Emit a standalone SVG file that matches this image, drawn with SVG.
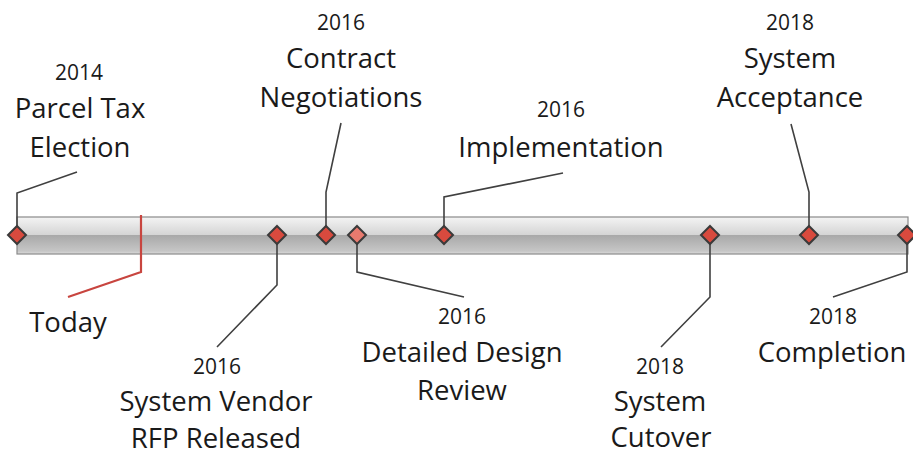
<svg xmlns="http://www.w3.org/2000/svg" width="913" height="455" viewBox="0 0 913 455">
  <defs>
    <linearGradient id="barTop" x1="0" y1="0" x2="0" y2="1">
      <stop offset="0" stop-color="#f4f4f4"/>
      <stop offset="1" stop-color="#d4d4d4"/>
    </linearGradient>
    <linearGradient id="barBottom" x1="0" y1="0" x2="0" y2="1">
      <stop offset="0" stop-color="#a8a8a8"/>
      <stop offset="0.85" stop-color="#c6c6c6"/>
      <stop offset="1" stop-color="#dcdcdc"/>
    </linearGradient>
    <path id="diamond" d="M0,-9 L9,0 L0,9 L-9,0 Z"/>
  </defs>
  <style>
    .leader { fill: none; stroke: #404040; stroke-width: 1.6; }
    .today { fill: none; stroke: #c8453f; stroke-width: 2.2; }
    .ms { fill: #d84a3e; stroke: #3a3a3a; stroke-width: 2; }
    .ms-light { fill: #e87a6e; stroke: #3a3a3a; stroke-width: 2; }
    .year { font-family: "Open Sans", "Noto Sans", sans-serif; font-size: 21px; fill: #1a1a1a; text-anchor: middle; }
    .label { font-family: "Open Sans", "Noto Sans", sans-serif; font-size: 27.5px; fill: #1a1a1a; text-anchor: middle; }
  </style>

  <rect width="913" height="455" fill="#ffffff"/>

  <!-- timeline bar -->
  <g id="timeline-bar">
    <rect x="17" y="217" width="891" height="18" fill="url(#barTop)"/>
    <rect x="17" y="235" width="891" height="19" fill="url(#barBottom)"/>
    <rect x="17" y="217" width="891" height="37" fill="none" stroke="#8a8a8a" stroke-width="1.2"/>
  </g>

  <!-- connectors -->
  <g id="connectors">
    <polyline class="leader" points="17,235 17,193 77,172"/>
    <polyline class="leader" points="326,235 326,192 341,123"/>
    <polyline class="leader" points="444,235 444,197 563,173"/>
    <polyline class="leader" points="809,235 809,192 791,124"/>
    <polyline class="leader" points="277,235 277,285 217,347"/>
    <polyline class="leader" points="357,235 357,272 464,297"/>
    <polyline class="leader" points="710,235 710,297 661,347"/>
    <polyline class="leader" points="907,235 907,272 833,297"/>
    <polyline class="today" points="141,215 141,272 68,297"/>
  </g>

  <!-- milestones -->
  <g id="node-parcel-tax">
    <use href="#diamond" class="ms" x="17" y="235"/>
    <text class="year" x="79" y="80">2014</text>
    <text class="label" x="80" y="118">Parcel Tax</text>
    <text class="label" x="80" y="157">Election</text>
  </g>

  <g id="node-today">
    <text class="label" x="68" y="332">Today</text>
  </g>

  <g id="node-vendor-rfp">
    <use href="#diamond" class="ms" x="277" y="235"/>
    <text class="year" x="217" y="374">2016</text>
    <text class="label" x="216" y="411">System Vendor</text>
    <text class="label" x="216" y="448">RFP Released</text>
  </g>

  <g id="node-contract">
    <use href="#diamond" class="ms" x="326" y="235"/>
    <text class="year" x="341" y="30">2016</text>
    <text class="label" x="341" y="68">Contract</text>
    <text class="label" x="341" y="107">Negotiations</text>
  </g>

  <g id="node-design-review">
    <use href="#diamond" class="ms-light" x="357" y="235"/>
    <text class="year" x="462" y="324">2016</text>
    <text class="label" x="462" y="362">Detailed Design</text>
    <text class="label" x="462" y="400">Review</text>
  </g>

  <g id="node-implementation">
    <use href="#diamond" class="ms" x="444" y="235"/>
    <text class="year" x="561" y="117">2016</text>
    <text class="label" x="561" y="157">Implementation</text>
  </g>

  <g id="node-cutover">
    <use href="#diamond" class="ms" x="710" y="235"/>
    <text class="year" x="660" y="374">2018</text>
    <text class="label" x="660" y="411">System</text>
    <text class="label" x="661" y="447">Cutover</text>
  </g>

  <g id="node-acceptance">
    <use href="#diamond" class="ms" x="809" y="235"/>
    <text class="year" x="790" y="30">2018</text>
    <text class="label" x="790" y="68">System</text>
    <text class="label" x="790" y="107">Acceptance</text>
  </g>

  <g id="node-completion">
    <use href="#diamond" class="ms" x="907" y="235"/>
    <text class="year" x="833" y="324">2018</text>
    <text class="label" x="832" y="362">Completion</text>
  </g>
</svg>
